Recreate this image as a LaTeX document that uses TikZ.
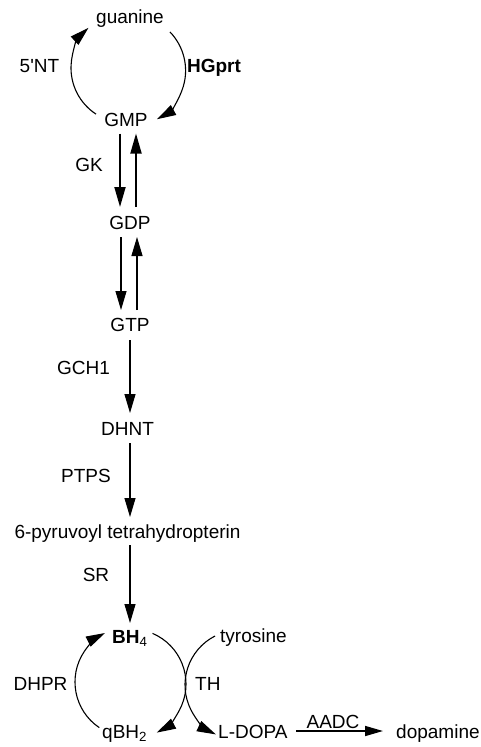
\documentclass[tikz,border=0pt]{standalone}
\usepackage{fontspec}
\setmainfont{Liberation Sans}
\usetikzlibrary{arrows.meta}
\begin{document}
\begin{tikzpicture}[x=1pt,y=1pt,
  lbl/.style={inner sep=0pt, anchor=base, font=\fontsize{19}{22}\selectfont},
  rxn/.style={line width=1.1pt, -{Triangle[length=19pt,width=11pt]}},
  rxnbold/.style={line width=1.8pt, -{Triangle[length=20pt,width=11pt]}}]
\useasboundingbox (0,0) rectangle (481,-747);

% metabolites and enzymes
\node[lbl] (guanine) at (130,-23) {guanine};
\node[lbl] (gmp) at (126,-126.5) {GMP};
\node[lbl] (nt) at (39.5,-72) {5\textquotesingle NT};
\node[lbl,font=\fontsize{19}{22}\selectfont\bfseries] (hgprt) at (214,-72) {HGprt};
\node[lbl] (gk) at (89,-171) {GK};
\node[lbl] (gdp) at (130,-229) {GDP};
\node[lbl] (gtp) at (130,-331) {GTP};
\node[lbl] (gch) at (83.5,-374) {GCH1};
\node[lbl] (dhnt) at (127.5,-435) {DHNT};
\node[lbl] (ptps) at (86,-482) {PTPS};
\node[lbl] (pyr) at (127.5,-538) {6-pyruvoyl tetrahydropterin};
\node[lbl] (sr) at (96,-581) {SR};
\node[lbl,anchor=base west] (bh4) at (112,-643) {\textbf{BH}\textsubscript{4}};
\node[lbl,anchor=base west] (tyr) at (220,-642) {tyrosine};
\node[lbl] (dhpr) at (40.5,-690) {DHPR};
\node[lbl,anchor=base west] (th) at (195,-690) {TH};
\node[lbl,anchor=base west] (qbh) at (102,-738) {qBH\textsubscript{2}};
\node[lbl,anchor=base west] (ldopa) at (218,-738) {L-DOPA};
\node[lbl] (aadc) at (333,-728) {AADC};
\node[lbl,anchor=base west] (dopa) at (396,-738) {dopamine};

% centres of the cycle arcs
\coordinate (cA) at (126,-68);
\coordinate (cB) at (130,-70.6);
\coordinate (cC) at (130,-682);
\coordinate (cD) at (131,-684);
\coordinate (cE) at (240,-685);

% guanine salvage cycle
\draw[rxn] ([shift={(237:55pt)}]cA) arc[start angle=237, end angle=133, radius=55pt];
\draw[rxn] ([shift={(44:55.6pt)}]cB) arc[start angle=44, end angle=-61, radius=55.6pt];

% GMP <-> GDP <-> GTP
\draw[rxnbold] ([shift={(-6pt,-7pt)}]gmp.base) -- ([shift={(-10pt,22pt)}]gdp.base);
\draw[rxnbold] ([shift={(6pt,22pt)}]gdp.base) -- ([shift={(10pt,-7pt)}]gmp.base);
\draw[rxn] ([shift={(-9pt,-8pt)}]gdp.base) -- ([shift={(-9pt,21pt)}]gtp.base);
\draw[rxn] ([shift={(7pt,21pt)}]gtp.base) -- ([shift={(7pt,-8pt)}]gdp.base);

% de novo BH4 synthesis
\draw[rxn] ([shift={(0pt,-9pt)}]gtp.base) -- ([shift={(2.5pt,22pt)}]dhnt.base);
\draw[rxn] ([shift={(2.5pt,-8pt)}]dhnt.base) -- ([shift={(2.5pt,21pt)}]pyr.base);
\draw[rxn] ([shift={(2.5pt,-7pt)}]pyr.base) -- ([shift={(18pt,20pt)}]bh4.base west);

% BH4 recycling and tyrosine hydroxylation
\draw[rxn] ([shift={(236:55pt)}]cC) arc[start angle=236, end angle=117, radius=55pt];
\draw[rxn] ([shift={(67:55pt)}]cD) arc[start angle=67, end angle=-62, radius=55pt];
\draw[rxn] ([shift={(117:55pt)}]cE) arc[start angle=117, end angle=244, radius=55pt];

% decarboxylation
\draw[line width=1.6pt, -{Triangle[length=18pt,width=10pt]}]
  ([shift={(78pt,7pt)}]ldopa.base west) -- ([shift={(-13pt,7pt)}]dopa.base west);
\end{tikzpicture}
\end{document}
